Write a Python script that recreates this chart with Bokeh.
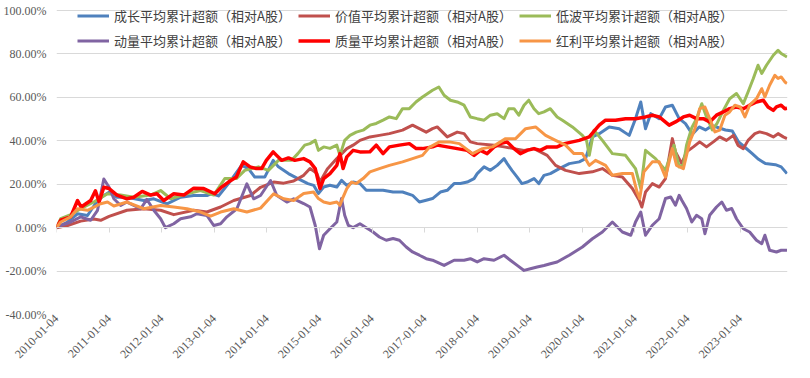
from math import pi
from bokeh.plotting import figure
from bokeh.models import Range1d, FixedTicker, LinearAxis, Legend, LegendItem
from bokeh.embed import file_html
from bokeh.resources import INLINE

# ---------------- data (year fraction, cumulative excess %) ----------------
series_names = [
    "成长平均累计超额（相对A股）",
    "价值平均累计超额（相对A股）",
    "低波平均累计超额（相对A股）",
    "动量平均累计超额（相对A股）",
    "质量平均累计超额（相对A股）",
    "红利平均累计超额（相对A股）",
]
series_colors = ["#4F81BD", "#C0504D", "#9BBB59", "#8064A2", "#FF0000", "#F79646"]

growth = [(2010.00, 0), (2010.21, 2.6), (2010.40, 6.4), (2010.59, 5.6), (2010.78, 12.5), (2010.90, 14.8),
          (2011.00, 16.3), (2011.15, 14), (2011.34, 14), (2011.66, 12.5), (2011.85, 13.3), (2012.10, 11),
          (2012.36, 14), (2012.61, 14.8), (2012.86, 14.8), (2012.95, 15.7), (2013.08, 14.6), (2013.27, 20.3),
          (2013.52, 28.7), (2013.65, 27.2), (2013.77, 23.3), (2013.96, 23.3), (2014.12, 31), (2014.22, 28),
          (2014.41, 24.9), (2014.59, 22.6), (2014.78, 20.3), (2014.89, 19.5), (2014.98, 15.7), (2015.08, 18.7),
          (2015.20, 19.5), (2015.33, 18.7), (2015.42, 21.8), (2015.52, 19.5), (2015.64, 21), (2015.77, 20.3),
          (2015.89, 17.2), (2016.21, 17.2), (2016.40, 16.4), (2016.58, 16.4), (2016.77, 14.9), (2016.90, 11.8),
          (2017.03, 12.6), (2017.15, 13.4), (2017.30, 16.4), (2017.43, 17.2), (2017.56, 20.3), (2017.68, 20.3),
          (2017.81, 21), (2017.94, 22.6), (2018.00, 24.9), (2018.13, 28), (2018.25, 26.4), (2018.38, 28.7),
          (2018.51, 31.8), (2018.57, 29.5), (2018.66, 26.4), (2018.76, 23.3), (2018.85, 20.3), (2018.95, 21),
          (2019.08, 22.6), (2019.17, 20.3), (2019.27, 24.1), (2019.39, 24.9), (2019.56, 27.2), (2019.75, 29.5),
          (2019.94, 30.3), (2020.06, 31.8), (2020.19, 41.8), (2020.32, 43.3), (2020.51, 46.4), (2020.70, 45.6),
          (2020.89, 42.5), (2021.01, 50.2), (2021.11, 57.9), (2021.20, 45.6), (2021.30, 52.5), (2021.46, 50.2),
          (2021.58, 55.6), (2021.71, 56.4), (2021.84, 50.2), (2021.96, 47.9), (2022.09, 43), (2022.22, 46.4),
          (2022.34, 45), (2022.47, 47), (2022.59, 46), (2022.72, 45), (2022.85, 44.5), (2022.97, 39.5),
          (2023.10, 36.8), (2023.23, 34.1), (2023.35, 31.5), (2023.48, 29.5), (2023.67, 29), (2023.78, 28),
          (2023.89, 24.9)]

value_ = [(2010.00, 0), (2010.21, 1), (2010.46, 3), (2010.71, 4), (2010.84, 3.4), (2011.00, 5.2), (2011.34, 8),
          (2011.66, 8.7), (2011.98, 8), (2012.23, 6), (2012.61, 8), (2012.86, 7.2), (2013.12, 9.5),
          (2013.37, 12.5), (2013.69, 14.8), (2013.88, 18.6), (2014.13, 21), (2014.32, 20.5), (2014.51, 21.5),
          (2014.70, 24.1), (2014.82, 27.2), (2014.95, 25), (2015.01, 21), (2015.15, 27), (2015.33, 31.8),
          (2015.52, 36.4), (2015.64, 38), (2015.77, 40.2), (2015.96, 41.8), (2016.14, 42.5), (2016.33, 43.3),
          (2016.58, 44.9), (2016.77, 47.2), (2016.90, 45.6), (2017.03, 44), (2017.15, 45.6), (2017.24, 46.4),
          (2017.43, 41.8), (2017.62, 44), (2017.75, 43.3), (2017.87, 39.5), (2018.00, 38.7), (2018.32, 38),
          (2018.51, 37.2), (2018.70, 36.4), (2018.89, 35.6), (2019.08, 36.4), (2019.20, 34.9), (2019.33, 33.3),
          (2019.49, 28.7), (2019.68, 26.4), (2019.94, 24.9), (2020.19, 25.7), (2020.38, 27.2), (2020.57, 24.1),
          (2020.76, 23.3), (2020.95, 18), (2021.08, 12.6), (2021.13, 9.5), (2021.20, 16.4), (2021.33, 20.3),
          (2021.46, 18.7), (2021.58, 22.6), (2021.71, 41), (2021.77, 34.9), (2021.89, 29.5), (2021.98, 34.9),
          (2022.11, 37.2), (2022.23, 39.5), (2022.36, 37.2), (2022.49, 39.5), (2022.61, 41.8), (2022.74, 40.2),
          (2022.87, 42.5), (2022.96, 37.9), (2023.06, 36.4), (2023.15, 40.2), (2023.28, 43.3), (2023.37, 44.1),
          (2023.50, 43.3), (2023.63, 41.8), (2023.72, 43.3), (2023.82, 41.8), (2023.89, 41)]

lowvol = [(2010.00, 0), (2010.08, 4.1), (2010.27, 6), (2010.46, 8.7), (2010.71, 11.8), (2010.97, 15.6),
          (2011.22, 15), (2011.47, 14), (2011.79, 15), (2011.98, 17.1), (2012.17, 13.3), (2012.48, 15.6),
          (2012.74, 17.1), (2012.99, 15), (2013.20, 22.6), (2013.42, 22.6), (2013.58, 26.4), (2013.84, 28),
          (2014.03, 26.4), (2014.22, 31), (2014.47, 31), (2014.59, 34.1), (2014.72, 38), (2014.82, 38.7),
          (2014.92, 40.2), (2014.98, 35.6), (2015.08, 37.2), (2015.20, 36.5), (2015.33, 38), (2015.39, 33.3),
          (2015.48, 40.2), (2015.58, 42.5), (2015.70, 44), (2015.83, 44.9), (2015.96, 47.2), (2016.08, 48),
          (2016.21, 49.5), (2016.33, 51), (2016.46, 50.2), (2016.58, 54.8), (2016.71, 54.8), (2016.84, 58),
          (2016.96, 60.2), (2017.15, 63.3), (2017.27, 64.8), (2017.37, 61), (2017.49, 58.7), (2017.62, 57.9),
          (2017.75, 56.4), (2017.87, 51), (2018.00, 50.2), (2018.13, 49.5), (2018.25, 51.8), (2018.38, 52.5),
          (2018.51, 50.2), (2018.60, 54.8), (2018.70, 54.8), (2018.79, 51.8), (2018.89, 56.4), (2018.98, 58.7),
          (2019.08, 54.8), (2019.17, 52.5), (2019.27, 53.3), (2019.39, 54.8), (2019.52, 51), (2019.62, 49.5),
          (2019.81, 46.4), (2020.00, 42.5), (2020.08, 40), (2020.13, 33.3), (2020.22, 44.9), (2020.38, 40.2),
          (2020.57, 34.1), (2020.82, 33.3), (2021.01, 27.2), (2021.11, 18), (2021.20, 35.6), (2021.39, 31.8),
          (2021.58, 26.4), (2021.74, 38), (2021.84, 28), (2021.92, 29), (2021.98, 38), (2022.08, 46),
          (2022.17, 50.2), (2022.27, 57.1), (2022.36, 51), (2022.47, 45), (2022.56, 48), (2022.68, 54),
          (2022.80, 59.4), (2022.93, 61.8), (2023.06, 57.1), (2023.15, 62.5), (2023.25, 68.7), (2023.34, 74.8),
          (2023.41, 71), (2023.50, 74.8), (2023.63, 79.4), (2023.72, 81.7), (2023.78, 80.2), (2023.89, 78.6)]

momentum = [(2010.00, 0), (2010.08, 1), (2010.27, 2.6), (2010.46, 5), (2010.65, 3.4), (2010.78, 8),
            (2010.90, 22.4), (2011.00, 18.6), (2011.09, 13.3), (2011.22, 10.2), (2011.34, 11.8), (2011.60, 8.7),
            (2011.72, 13), (2011.85, 8), (2011.98, 4.1), (2012.07, 0), (2012.23, 1.8), (2012.36, 4.1),
            (2012.55, 5), (2012.67, 6.4), (2012.86, 5.6), (2012.99, 1), (2013.12, 1.8), (2013.24, 5),
            (2013.43, 8.7), (2013.62, 20.2), (2013.75, 13.3), (2013.88, 14.8), (2014.07, 21.7), (2014.19, 14.8),
            (2014.38, 11.8), (2014.51, 13.3), (2014.70, 11.1), (2014.82, 9.5), (2014.92, 1), (2015.00, -9.7),
            (2015.08, -3.5), (2015.20, -0.5), (2015.33, 2.6), (2015.42, 13.4), (2015.48, 5.7), (2015.55, 1),
            (2015.64, 0), (2015.77, 1.8), (2015.89, 0), (2016.02, -2), (2016.14, -4.3), (2016.27, -5.8),
            (2016.40, -5), (2016.52, -5.8), (2016.65, -8.9), (2016.77, -11.2), (2016.90, -12.7), (2017.03, -14.3),
            (2017.15, -15), (2017.37, -17.4), (2017.56, -15), (2017.75, -15), (2017.87, -14.3), (2018.00, -15.8),
            (2018.13, -14.3), (2018.32, -15), (2018.51, -12.7), (2018.63, -15), (2018.76, -17.4), (2018.89, -19.7),
            (2019.01, -18.9), (2019.14, -18.1), (2019.27, -17.4), (2019.39, -16.6), (2019.52, -15.8),
            (2019.75, -12.7), (2020.00, -8.9), (2020.19, -5.1), (2020.38, -2), (2020.57, 2.6), (2020.76, -2),
            (2020.92, -3.5), (2021.01, 2.6), (2021.11, 7.2), (2021.20, -3.5), (2021.33, 1.1), (2021.46, 4.1),
            (2021.58, 13.4), (2021.68, 14.1), (2021.77, 10.3), (2021.84, 14.9), (2021.89, 12.6), (2021.98, 8.8),
            (2022.08, 2.6), (2022.17, 5.7), (2022.27, 4.1), (2022.33, -2.8), (2022.42, 5.7), (2022.55, 9.5),
            (2022.65, 11.8), (2022.74, 8), (2022.84, 8.8), (2022.93, 4.1), (2023.06, -0.5), (2023.18, -2),
            (2023.31, -5.8), (2023.41, -7.4), (2023.47, -3.5), (2023.56, -10.4), (2023.69, -11.2),
            (2023.78, -10.4), (2023.89, -10.4)]

quality = [(2010.00, 0), (2010.08, 3.4), (2010.27, 5), (2010.40, 12.5), (2010.47, 9.5), (2010.65, 12.5),
           (2010.74, 17), (2010.81, 11.8), (2010.90, 18.6), (2011.00, 18), (2011.15, 15), (2011.34, 13.3),
           (2011.47, 14), (2011.63, 16.7), (2011.79, 15), (2011.91, 15.6), (2012.04, 12.5), (2012.23, 15.6),
           (2012.42, 15), (2012.61, 18.2), (2012.80, 18), (2013.01, 15.6), (2013.14, 18.7), (2013.27, 21),
           (2013.42, 23.3), (2013.55, 30.3), (2013.68, 28), (2013.80, 27.2), (2013.90, 27.2), (2013.99, 31),
           (2014.12, 34.9), (2014.18, 33.4), (2014.28, 31), (2014.41, 32.1), (2014.53, 31), (2014.70, 31.8),
           (2014.82, 30.3), (2014.92, 27.2), (2015.01, 18), (2015.08, 22.6), (2015.20, 24.9), (2015.33, 28.7),
           (2015.39, 34.1), (2015.45, 27.2), (2015.52, 32.6), (2015.64, 35.6), (2015.77, 34.9), (2015.96, 35),
           (2016.08, 38), (2016.21, 34.1), (2016.33, 37.2), (2016.52, 38), (2016.71, 38.7), (2016.84, 36.4),
           (2016.96, 36.4), (2017.15, 37.2), (2017.24, 38), (2017.43, 37.2), (2017.62, 36.4), (2017.81, 35.6),
           (2017.94, 33.3), (2018.06, 35.6), (2018.19, 34.1), (2018.32, 37.2), (2018.44, 38.7), (2018.57, 39.5),
           (2018.70, 36.4), (2018.82, 34.1), (2018.95, 35.6), (2019.08, 36.4), (2019.20, 35.6), (2019.33, 37.2),
           (2019.52, 37.2), (2019.66, 38.7), (2019.81, 39.5), (2019.94, 40.2), (2020.13, 41.8), (2020.32, 47.2),
           (2020.44, 49.5), (2020.63, 49.5), (2020.82, 50.2), (2021.01, 50.2), (2021.20, 51), (2021.33, 51.8),
           (2021.46, 51), (2021.65, 47.2), (2021.77, 48.7), (2021.92, 51), (2022.04, 51.8), (2022.17, 50.2),
           (2022.30, 50.2), (2022.42, 48.7), (2022.55, 51.8), (2022.68, 53.3), (2022.80, 54.8), (2022.93, 55.6),
           (2023.06, 54.8), (2023.18, 56.4), (2023.31, 57.9), (2023.44, 58.7), (2023.53, 55.6), (2023.63, 54),
           (2023.69, 55.6), (2023.78, 56.4), (2023.85, 54.8), (2023.89, 55)]

dividend = [(2010.00, 0), (2010.08, 2.6), (2010.27, 5), (2010.40, 8.7), (2010.59, 8), (2010.84, 11),
            (2010.97, 11.8), (2011.09, 10), (2011.34, 11.8), (2011.66, 8.7), (2011.98, 10.2), (2012.23, 9.5),
            (2012.48, 8.7), (2012.74, 7.2), (2012.93, 5.3), (2013.12, 7.2), (2013.37, 8.7), (2013.62, 7.2),
            (2013.88, 9), (2014.13, 15.6), (2014.32, 13.3), (2014.51, 12.5), (2014.70, 15.7), (2014.89, 16.4),
            (2014.98, 13.4), (2015.08, 11.8), (2015.20, 11.1), (2015.33, 11.8), (2015.39, 10.3), (2015.45, 14.1),
            (2015.52, 18), (2015.61, 21), (2015.70, 20.3), (2015.83, 22.6), (2015.96, 25.7), (2016.14, 27.2),
            (2016.33, 28.7), (2016.58, 30.3), (2016.77, 31.8), (2016.96, 33.3), (2017.09, 37), (2017.28, 39.5),
            (2017.47, 39.5), (2017.66, 38.7), (2017.91, 34.1), (2018.10, 36.4), (2018.29, 37.2), (2018.54, 41),
            (2018.73, 41), (2018.92, 45.6), (2019.11, 46.4), (2019.30, 42.5), (2019.49, 40.2), (2019.68, 38),
            (2019.84, 34.1), (2020.00, 34.1), (2020.13, 28.7), (2020.25, 31), (2020.44, 28.7), (2020.57, 24.1),
            (2020.76, 24.9), (2020.95, 24.9), (2021.04, 16.4), (2021.09, 13.4), (2021.17, 25.7), (2021.33, 30.3),
            (2021.46, 30.3), (2021.58, 23.3), (2021.71, 36.4), (2021.79, 28.7), (2021.92, 27.2), (2022.04, 39.5),
            (2022.14, 45.6), (2022.23, 54.8), (2022.33, 55.6), (2022.42, 50.2), (2022.52, 44.1), (2022.61, 44.9),
            (2022.71, 51.8), (2022.80, 53.3), (2022.90, 56.4), (2023.00, 55.6), (2023.09, 51), (2023.18, 56.4),
            (2023.31, 59.4), (2023.41, 64), (2023.47, 60.2), (2023.56, 65.6), (2023.66, 70.2), (2023.72, 68.7),
            (2023.78, 69.4), (2023.85, 67.1), (2023.89, 66.4)]

all_series = [growth, value_, lowvol, momentum, quality, dividend]

x_tick_years = list(range(2010, 2024))
x_tick_labels = [f"{y}-01-04" for y in x_tick_years]
y_ticks = [-40, -20, 0, 20, 40, 60, 80, 100]
y_tick_labels = ["-40.00%", "-20.00%", "0.00%", "20.00%", "40.00%", "60.00%", "80.00%", "100.00%"]

# ---------------- figure ----------------
# frame extends a little above the 100% gridline so the legend's first row sits inside it
p = figure(width=794, height=368, output_backend="svg", toolbar_location=None,
           x_range=Range1d(2010.0, 2023.9), y_range=Range1d(-40, 101.86),
           min_border_left=54, min_border_right=7, min_border_top=6, min_border_bottom=54)
p.outline_line_color = None
p.background_fill_color = "white"
p.border_fill_color = "white"

p.xgrid.visible = False
p.ygrid.ticker = FixedTicker(ticks=y_ticks)
p.ygrid.grid_line_color = "#D9D9D9"
p.ygrid.grid_line_width = 1

yax = p.yaxis[0]
yax.ticker = FixedTicker(ticks=y_ticks)
yax.major_label_overrides = {t: l for t, l in zip(y_ticks, y_tick_labels)}
yax.axis_line_color = None
yax.major_tick_line_color = None
yax.major_tick_out = 0
yax.major_tick_in = 0
yax.minor_tick_line_color = None
yax.major_label_standoff = 10
yax.major_label_text_font = "Liberation Serif"
yax.major_label_text_font_size = "12px"
yax.major_label_text_color = "#595959"

xax = p.xaxis[0]
xax.ticker = FixedTicker(ticks=x_tick_years)
xax.major_label_overrides = {t: l for t, l in zip(x_tick_years, x_tick_labels)}
xax.major_label_orientation = pi / 4
xax.axis_line_color = None
xax.major_tick_line_color = None
xax.major_tick_out = 0
xax.major_tick_in = 0
xax.minor_tick_line_color = None
xax.minor_tick_out = 0
xax.major_label_standoff = 2
xax.major_label_text_font = "Liberation Serif"
xax.major_label_text_font_size = "12px"
xax.major_label_text_color = "#595959"

# horizontal category axis line drawn at 0 with outside ticks
zero_axis = LinearAxis(fixed_location=0, ticker=FixedTicker(ticks=x_tick_years),
                       axis_line_color="#D9D9D9", axis_line_width=1,
                       major_tick_line_color="#D9D9D9", major_tick_out=5, major_tick_in=0,
                       minor_tick_line_color=None, major_label_text_color=None)
p.add_layout(zero_axis, "below")

items = []
for name, color, data in zip(series_names, series_colors, all_series):
    xs = [d[0] for d in data]
    ys = [d[1] for d in data]
    lw = 3.5 if color == "#FF0000" else 3
    r = p.line(xs, ys, line_color=color, line_width=lw, line_join="round")
    items.append(LegendItem(label=name, renderers=[r]))

legend = Legend(items=items, orientation="horizontal", ncols=3, location=(21, 264),
                glyph_width=32, glyph_height=19, label_height=19, label_width=178,
                label_standoff=5, spacing=6, padding=0, margin=0,
                border_line_color=None, background_fill_alpha=0,
                label_text_font="Noto Sans CJK SC", label_text_font_size="13px",
                label_text_color="#404040")
p.add_layout(legend)

open("out.html", "w").write(file_html(p, INLINE))
